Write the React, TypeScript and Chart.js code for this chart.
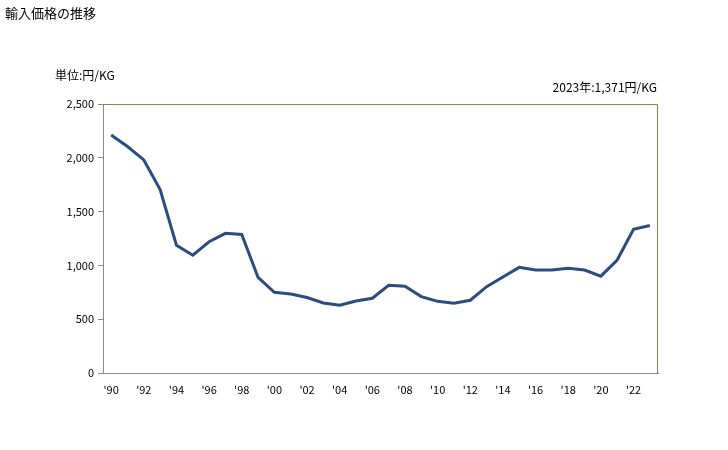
import React, { useEffect, useRef } from "react";
import { Chart, registerables } from "chart.js";

Chart.register(...registerables);

const years: number[] = [
  1990, 1991, 1992, 1993, 1994, 1995, 1996, 1997, 1998, 1999,
  2000, 2001, 2002, 2003, 2004, 2005, 2006, 2007, 2008, 2009,
  2010, 2011, 2012, 2013, 2014, 2015, 2016, 2017, 2018, 2019,
  2020, 2021, 2022, 2023,
];
const prices: number[] = [
  2212, 2105, 1980, 1705, 1188, 1095, 1220, 1298, 1288, 888,
  750, 734, 702, 651, 630, 669, 695, 815, 807, 710,
  666, 648, 676, 802, 893, 982, 957, 957, 974, 957,
  900, 1050, 1336, 1371,
];
const yTicks: number[] = [0, 500, 1000, 1500, 2000, 2500];

const TITLE = "輸入価格の推移";
const UNIT = "単位:円/KG";
const NOTE = "2023年:1,371円/KG";
const FONT = "'Noto Sans CJK JP', sans-serif";

export default function App() {
  const ref = useRef<HTMLCanvasElement | null>(null);
  useEffect(() => {
    if (!ref.current) return;
    const textPlugin = {
      id: "texts",
      afterDraw(chart: any) {
        const ctx = chart.ctx;
        const a = chart.chartArea;
        ctx.save();
        ctx.strokeStyle = "#8C8444";
        ctx.lineWidth = 1;
        ctx.beginPath();
        ctx.moveTo(a.left, a.top + 0.5);
        ctx.lineTo(a.right - 0.5, a.top + 0.5);
        ctx.lineTo(a.right - 0.5, a.bottom);
        ctx.stroke();
        ctx.fillStyle = "#000";
        ctx.textBaseline = "middle";
        ctx.font = `13px ${FONT}`;
        ctx.textAlign = "left";
        ctx.fillText(TITLE, 5, 13);
        ctx.font = `12px ${FONT}`;
        ctx.fillText(UNIT, 55, 75);
        ctx.textAlign = "right";
        ctx.fillText(NOTE, 657, 87);
        ctx.restore();
      },
    };
    const chart = new Chart(ref.current, {
      type: "line",
      data: {
        labels: years.map(String),
        datasets: [
          {
            data: prices,
            borderColor: "#2B4C7E",
            borderWidth: 3,
            pointRadius: 0,
            tension: 0,
            fill: false,
          },
        ],
      },
      options: {
        animation: false,
        responsive: false,
        events: [],
        layout: { padding: { top: 104, right: 70, left: 0, bottom: 0 } },
        plugins: { legend: { display: false }, tooltip: { enabled: false } },
        scales: {
          x: {
            type: "category",
            offset: true,
            grid: { display: true, drawOnChartArea: false, drawTicks: false },
            border: { display: true, color: "#888888", width: 1 },
            ticks: {
              autoSkip: false,
              maxRotation: 0,
              padding: 10,
              color: "#000",
              font: { family: FONT, size: 11 },
              callback: (_v: any, i: number) =>
                years[i] % 2 === 0 ? "'" + String(years[i]).slice(2) : "",
            },
            afterFit: (s: any) => {
              s.height = 450 - 373;
            },
          },
          y: {
            min: 0,
            max: 2500,
            afterBuildTicks: (s: any) => {
              s.ticks = yTicks.map((v) => ({ value: v }));
            },
            grid: {
              display: true,
              drawOnChartArea: false,
              drawTicks: true,
              tickLength: 5,
              color: "#888888",
            },
            border: { display: true, color: "#888888", width: 1 },
            ticks: {
              padding: 4,
              color: "#000",
              font: { family: FONT, size: 11 },
              callback: (v: any) => Number(v).toLocaleString("en-US"),
            },
            afterFit: (s: any) => {
              s.width = 103;
            },
          },
        },
      },
      plugins: [textPlugin],
    });
    return () => chart.destroy();
  }, []);
  return (
    <div style={{ position: "fixed", left: 0, top: 0, width: 728, height: 450, background: "#fff" }}>
      <canvas ref={ref} width={728} height={450} style={{ width: 728, height: 450 }} />
    </div>
  );
}
